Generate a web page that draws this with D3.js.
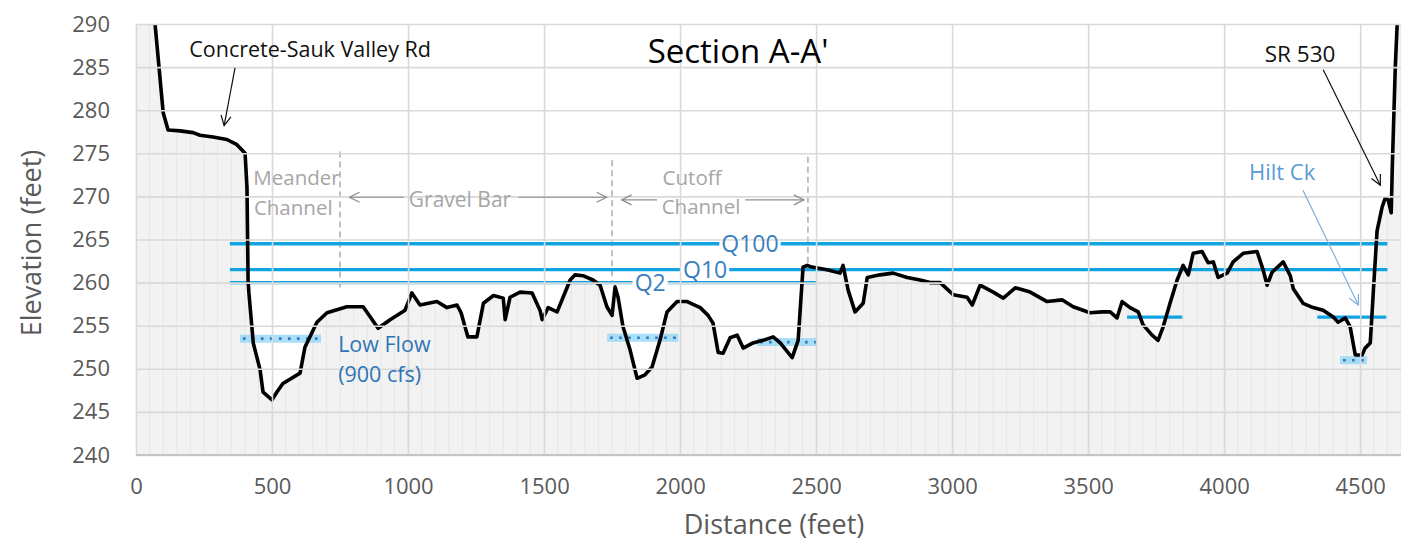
<!DOCTYPE html>
<html>
<head>
<meta charset="utf-8">
<script src="https://cdn.jsdelivr.net/npm/d3@7"></script>
<style>
  body { margin: 0; background: #fff; }
  svg text { font-family: "Open Sans", Lato, sans-serif; }
</style>
</head>
<body>
<div id="chart"></div>
<script>
// Profile: distance (ft) / elevation (ft)
const profileDist = [0, 50, 70, 100, 118, 162, 210, 235, 283, 334, 371, 401, 408, 412, 415, 431, 456, 467, 500, 518, 540, 603, 621, 665, 702, 775, 835, 890, 934, 989, 1014, 1044, 1106, 1143, 1180, 1195, 1220, 1253, 1277, 1314, 1350, 1357, 1375, 1412, 1456, 1485, 1493, 1515, 1548, 1570, 1596, 1614, 1643, 1680, 1706, 1731, 1750, 1761, 1772, 1790, 1816, 1842, 1871, 1897, 1926, 1952, 1989, 2026, 2074, 2103, 2121, 2140, 2158, 2184, 2210, 2232, 2268, 2305, 2342, 2368, 2412, 2434, 2452, 2467, 2485, 2540, 2588, 2599, 2618, 2643, 2673, 2688, 2735, 2783, 2835, 2882, 2919, 2956, 3004, 3055, 3074, 3103, 3151, 3188, 3232, 3287, 3349, 3404, 3445, 3507, 3551, 3581, 3606, 3625, 3654, 3684, 3702, 3735, 3757, 3776, 3801, 3827, 3849, 3868, 3886, 3919, 3941, 3960, 3978, 4011, 4033, 4070, 4121, 4143, 4158, 4176, 4217, 4243, 4254, 4290, 4327, 4364, 4401, 4419, 4445, 4463, 4482, 4507, 4518, 4537, 4548, 4562, 4581, 4592, 4603, 4614, 4618, 4629, 4636, 4650];
const profileElev = [305, 296, 290, 279.7, 277.7, 277.6, 277.4, 277.1, 276.9, 276.6, 276, 275, 271, 260.3, 258.8, 253, 249.9, 247.3, 246.4, 247.3, 248.3, 249.5, 252.5, 255.4, 256.5, 257.2, 257.2, 254.7, 255.7, 256.8, 258.8, 257.4, 257.8, 257.1, 257.4, 256.5, 253.7, 253.7, 257.6, 258.5, 258.2, 255.7, 258.3, 258.9, 258.8, 256.8, 255.7, 257.1, 256.6, 258.3, 260.3, 260.9, 260.8, 260.3, 259.7, 257.2, 256.2, 259.5, 258.3, 254.9, 252.2, 248.9, 249.3, 250.2, 253.3, 256.6, 257.8, 257.8, 257.1, 256.2, 255.3, 251.9, 251.8, 253.6, 253.9, 252.4, 253.0, 253.3, 253.7, 253, 251.3, 253.3, 261.8, 262.0, 261.8, 261.5, 261.1, 262, 259.1, 256.6, 257.6, 260.6, 260.9, 261.1, 260.6, 260.3, 260.0, 260, 258.6, 258.3, 257.4, 259.7, 258.9, 258.2, 259.4, 258.9, 257.8, 258, 257.2, 256.5, 256.6, 256.6, 255.9, 257.8, 257.1, 256.6, 255.1, 253.9, 253.3, 254.9, 257.6, 260.3, 262, 260.9, 263.4, 263.6, 262.3, 262.4, 260.6, 261.1, 262.4, 263.4, 263.6, 261.5, 259.7, 261.2, 262.4, 260.8, 259.3, 257.6, 257.1, 256.8, 256, 255.4, 255.9, 254.9, 251.6, 251.6, 252.4, 253, 258.8, 266, 268.8, 269.8, 269.6, 268.1, 273.4, 285, 290, 300];

// Flood water surfaces
const floodNames = ["Q100", "Q10", "Q2"];
const floodElev = [264.5, 261.5, 260.0];
const floodFrom = [345, 345, 345];
const floodTo = [4600, 4600, 2500];
const floodLabelAt = [2257, 2092, 1890];

// Low flow (900 cfs) segments
const lowFrom = [382, 1732, 2283, 4426];
const lowTo = [680, 1993, 2503, 4525];
const lowElev = [253.5, 253.6, 253.1, 251.0];

// Hilt Ck water surface segments
const hiltFrom = [3643, 4342];
const hiltTo = [3846, 4596];
const hiltElev = [256, 256];

// Dashed section dividers
const dividerDist = [750, 1750, 2470];
const dividerTop = [275.2, 274.2, 274.6];
const dividerBottom = [259, 260, 262];

const xTicks = [0, 500, 1000, 1500, 2000, 2500, 3000, 3500, 4000, 4500];
const yTicks = [240, 245, 250, 255, 260, 265, 270, 275, 280, 285, 290];

const profile = profileDist.map((d, i) => ({ dist: d, elev: profileElev[i] }));

const width = 1401;
const height = 541;
const margin = { top: 24, right: 0, bottom: 86, left: 136 };

const x = d3.scaleLinear()
    .domain([0, 4650])
    .range([margin.left, width - margin.right]);

const y = d3.scaleLinear()
    .domain([240, 290])
    .range([height - margin.bottom, margin.top]);

const svg = d3.select("#chart").append("svg")
    .attr("width", width)
    .attr("height", height);

const defs = svg.append("defs");
defs.append("clipPath").attr("id", "plot")
    .append("rect")
    .attr("x", margin.left).attr("y", margin.top)
    .attr("width", width - margin.left - margin.right)
    .attr("height", height - margin.top - margin.bottom);

const area = d3.area()
    .x(d => x(d.dist))
    .y0(y(240))
    .y1(d => y(d.elev));

defs.append("clipPath").attr("id", "ground")
    .append("path").datum(profile).attr("d", area);

["black", "grey", "lightblue"].forEach((name, i) => {
    const col = ["#111", "#8c8c8c", "#7fb2e0"][i];
    defs.append("marker")
        .attr("id", "arrow-" + name)
        .attr("viewBox", "0 0 12 12")
        .attr("refX", 11).attr("refY", 6)
        .attr("markerWidth", 12).attr("markerHeight", 12)
        .attr("markerUnits", "userSpaceOnUse")
        .attr("orient", "auto")
        .append("path")
        .attr("d", "M1,1 L11,6 L1,11")
        .attr("fill", "none")
        .attr("stroke", col)
        .attr("stroke-width", 1.2);
});

const plot = svg.append("g").attr("clip-path", "url(#plot)");

// ground fill with fine vertical hatching
plot.append("path").datum(profile)
    .attr("d", area)
    .attr("fill", "#f2f2f2");

plot.append("g").attr("clip-path", "url(#ground)")
    .selectAll("line")
    .data(d3.range(0, 4651, 50))
    .enter().append("line")
    .attr("x1", d => x(d)).attr("x2", d => x(d))
    .attr("y1", y(290)).attr("y2", y(240))
    .attr("stroke", "#e6e6e6")
    .attr("stroke-width", 1);

// grid
svg.append("g")
    .attr("transform", `translate(0,${height - margin.bottom})`)
    .call(d3.axisBottom(x).tickValues(xTicks).tickSize(-(height - margin.top - margin.bottom)).tickFormat(""))
    .call(g => g.select(".domain").remove())
    .call(g => g.selectAll("line").attr("stroke", "#d9d9d9").attr("stroke-width", 1.6));

svg.append("g")
    .attr("transform", `translate(${margin.left},0)`)
    .call(d3.axisLeft(y).tickValues(yTicks).tickSize(-(width - margin.left - margin.right)).tickFormat(""))
    .call(g => g.select(".domain").remove())
    .call(g => g.selectAll("line").attr("stroke", "#d9d9d9").attr("stroke-width", 1.6));

svg.append("line")
    .attr("x1", margin.left).attr("x2", width)
    .attr("y1", y(240)).attr("y2", y(240))
    .attr("stroke", "#c4c4c4").attr("stroke-width", 1.8);

// tick labels
const xAxis = svg.append("g")
    .attr("transform", `translate(0,${height - margin.bottom})`)
    .call(d3.axisBottom(x).tickValues(xTicks).tickSize(0).tickPadding(23).tickFormat(d3.format("d")));
xAxis.select(".domain").remove();
xAxis.selectAll("text").attr("fill", "#595959").style("font-size", "22px");

const yAxis = svg.append("g")
    .attr("transform", `translate(${margin.left},0)`)
    .call(d3.axisLeft(y).tickValues(yTicks).tickSize(0).tickPadding(26));
yAxis.select(".domain").remove();
yAxis.selectAll("text").attr("fill", "#595959").style("font-size", "22px");

svg.append("text")
    .attr("x", 774).attr("y", 534)
    .attr("text-anchor", "middle")
    .attr("fill", "#595959")
    .style("font-size", "27px")
    .text("Distance (feet)");

svg.append("text")
    .attr("transform", "translate(41,243) rotate(-90)")
    .attr("text-anchor", "middle")
    .attr("fill", "#595959")
    .style("font-size", "27px")
    .text("Elevation (feet)");

// dashed dividers
plot.selectAll(".divider")
    .data(dividerDist)
    .enter().append("line")
    .attr("class", "divider")
    .attr("x1", d => x(d)).attr("x2", d => x(d))
    .attr("y1", (d, i) => y(dividerTop[i]))
    .attr("y2", (d, i) => y(dividerBottom[i]))
    .attr("stroke", "#a6a6a6")
    .attr("stroke-width", 1.4)
    .attr("stroke-dasharray", "6,4");

// flood lines
plot.selectAll(".flood")
    .data(floodNames)
    .enter().append("line")
    .attr("class", "flood")
    .attr("x1", (d, i) => x(floodFrom[i]))
    .attr("x2", (d, i) => x(floodTo[i]))
    .attr("y1", (d, i) => y(floodElev[i]))
    .attr("y2", (d, i) => y(floodElev[i]))
    .attr("stroke", "#12a3e3")
    .attr("stroke-width", 3.4);

// hilt ck water surface
plot.selectAll(".hilt")
    .data(hiltElev)
    .enter().append("line")
    .attr("class", "hilt")
    .attr("x1", (d, i) => x(hiltFrom[i]))
    .attr("x2", (d, i) => x(hiltTo[i]))
    .attr("y1", d => y(d)).attr("y2", d => y(d))
    .attr("stroke", "#12a3e3")
    .attr("stroke-width", 3.4);

// low flow
plot.selectAll(".lowband")
    .data(lowElev)
    .enter().append("line")
    .attr("class", "lowband")
    .attr("x1", (d, i) => x(lowFrom[i]))
    .attr("x2", (d, i) => x(lowTo[i]))
    .attr("y1", d => y(d)).attr("y2", d => y(d))
    .attr("stroke", "#8fd3f5")
    .attr("stroke-opacity", 0.75)
    .attr("stroke-width", 8);

plot.selectAll(".lowdots")
    .data(lowElev)
    .enter().append("line")
    .attr("class", "lowdots")
    .attr("x1", (d, i) => x(lowFrom[i]) + 3)
    .attr("x2", (d, i) => x(lowTo[i]))
    .attr("y1", d => y(d)).attr("y2", d => y(d))
    .attr("stroke", "#2a7bbf")
    .attr("stroke-width", 2.6)
    .attr("stroke-dasharray", "2.6,6.4");

// ground profile
plot.append("path").datum(profile)
    .attr("d", d3.line().x(d => x(d.dist)).y(d => y(d.elev)))
    .attr("fill", "none")
    .attr("stroke", "#000")
    .attr("stroke-width", 3.6)
    .attr("stroke-linejoin", "round");

// flood labels with white boxes
const labels = svg.append("g");
floodNames.forEach((name, i) => {
    const box = labels.append("rect");
    const t = labels.append("text")
        .attr("x", x(floodLabelAt[i]))
        .attr("y", y(floodElev[i]) + 8)
        .attr("text-anchor", "middle")
        .attr("fill", "#3a7fc0")
        .style("font-size", "23px")
        .text(name);
    const b = t.node().getBBox();
    box.attr("x", b.x - 2).attr("y", y(floodElev[i]) - 3)
        .attr("width", b.width + 4).attr("height", 6)
        .attr("fill", "#fff");
});

// text annotations
function note(txt, dist, elev, size, color, anchor) {
    return svg.append("text")
        .attr("x", x(dist)).attr("y", y(elev))
        .attr("text-anchor", anchor || "middle")
        .attr("fill", color)
        .style("font-size", size + "px")
        .text(txt);
}

function arrow(d1, e1, d2, e2, color, marker, w) {
    svg.append("line")
        .attr("x1", x(d1)).attr("y1", y(e1))
        .attr("x2", x(d2)).attr("y2", y(e2))
        .attr("stroke", color)
        .attr("stroke-width", w || 1.2)
        .attr("marker-end", `url(#arrow-${marker})`);
}

note("Section A-A'", 2213, 285.5, 33, "#000");
note("Concrete-Sauk Valley Rd", 640, 286.2, 21.5, "#111");
arrow(364, 284.9, 324, 278.2, "#111", "black");
note("SR 530", 4279, 285.6, 22.5, "#111");
arrow(4364, 284.7, 4574, 271.3, "#111", "black");
note("Hilt Ck", 4213, 271.9, 22, "#5b9bd5");
arrow(4290, 270.7, 4493, 257.4, "#7fb2e0", "lightblue");

note("Meander", 590, 271.3, 20.5, "#a6a6a6");
note("Channel", 578, 267.8, 20.5, "#a6a6a6");
note("Cutoff", 2044, 271.3, 20.5, "#a6a6a6");
note("Channel", 2077, 268.0, 20.5, "#a6a6a6");
note("Gravel Bar", 1191, 268.8, 21, "#a6a6a6");
arrow(985, 269.9, 785, 269.9, "#8c8c8c", "grey");
arrow(1405, 269.9, 1730, 269.9, "#8c8c8c", "grey");
arrow(1915, 269.6, 1785, 269.6, "#8c8c8c", "grey");
arrow(2240, 269.6, 2455, 269.6, "#8c8c8c", "grey");

note("Low Flow", 743, 252.0, 21.5, "#2e75b6", "start");
note("(900 cfs)", 743, 248.5, 21.5, "#2e75b6", "start");
</script>
</body>
</html>
